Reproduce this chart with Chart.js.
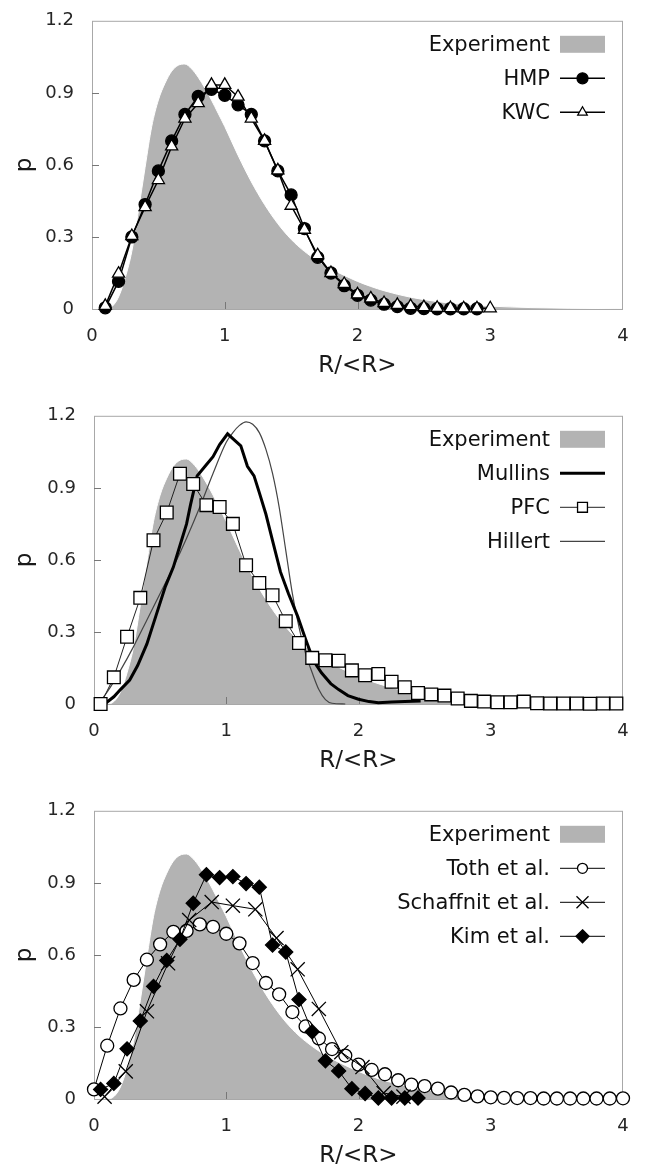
<!DOCTYPE html>
<html>
<head>
<meta charset="utf-8">
<script src="https://cdn.jsdelivr.net/npm/chart.js@4.4.1/dist/chart.umd.min.js"></script>
<style>
  body { margin: 0; background: #fff; width: 654px; height: 1173px; overflow: hidden; position: relative; }
  canvas { position: absolute; left: 0; }
</style>
</head>
<body>
<canvas id="panel1" width="654" height="383" style="top:0px"></canvas>
<canvas id="panel2" width="654" height="383" style="top:395px"></canvas>
<canvas id="panel3" width="654" height="383" style="top:790px"></canvas>
<script>
// axis ticks
const xTicks = [0, 1, 2, 3, 4];
const yTicks = [0, 0.3, 0.6, 0.9, 1.2];

// experimental size distribution (same in all three panels)
const expR = [0, 0.1, 0.15, 0.2, 0.25, 0.3, 0.35, 0.4, 0.45, 0.5, 0.55, 0.6, 0.65, 0.7, 0.75, 0.8, 0.85, 0.9, 0.95, 1.0,
              1.1, 1.2, 1.3, 1.4, 1.5, 1.6, 1.7, 1.8, 1.9, 2.0, 2.1, 2.2, 2.4, 2.6, 2.8, 3.0, 3.3, 3.6, 4.0];
const expP = [0, 0, 0.01, 0.05, 0.13, 0.24, 0.41, 0.59, 0.76, 0.87, 0.94, 0.99, 1.015, 1.02, 1.0, 0.965, 0.92, 0.87, 0.815, 0.76,
              0.64, 0.53, 0.435, 0.355, 0.29, 0.24, 0.2, 0.167, 0.14, 0.115, 0.094, 0.076, 0.049, 0.031, 0.019, 0.012, 0.006, 0.003, 0.001];

// panel 1
const hmpR = [0.1, 0.2, 0.3, 0.4, 0.5, 0.6, 0.7, 0.8, 0.9, 1.0, 1.1, 1.2, 1.3, 1.4, 1.5, 1.6, 1.7, 1.8, 1.9, 2.0,
              2.1, 2.2, 2.3, 2.4, 2.5, 2.6, 2.7, 2.8, 2.9];
const hmpP = [0.005, 0.115, 0.30, 0.435, 0.575, 0.70, 0.81, 0.885, 0.915, 0.89, 0.85, 0.81, 0.70, 0.575, 0.475, 0.335, 0.215, 0.15, 0.097, 0.057,
              0.037, 0.02, 0.01, 0.003, 0.002, 0.001, 0.001, 0.001, 0.001];
const kwcR = [0.1, 0.2, 0.3, 0.4, 0.5, 0.6, 0.7, 0.8, 0.9, 1.0, 1.1, 1.2, 1.3, 1.4, 1.5, 1.6, 1.7, 1.8, 1.9, 2.0,
              2.1, 2.2, 2.3, 2.4, 2.5, 2.6, 2.7, 2.8, 2.9, 3.0];
const kwcP = [0.013, 0.147, 0.304, 0.424, 0.537, 0.677, 0.793, 0.857, 0.933, 0.933, 0.884, 0.793, 0.70, 0.577, 0.43, 0.33, 0.224, 0.15, 0.104, 0.061,
              0.044, 0.025, 0.017, 0.012, 0.008, 0.005, 0.004, 0.003, 0.003, 0.003];

// panel 2
const mullinsR = [0.08, 0.15, 0.2, 0.27, 0.33, 0.4, 0.47, 0.54, 0.6, 0.65, 0.7, 0.73, 0.78, 0.84, 0.9, 0.95, 1.01, 1.06, 1.11, 1.16,
                  1.21, 1.25, 1.3, 1.35, 1.41, 1.47, 1.54, 1.6, 1.66, 1.72, 1.79, 1.85, 1.92, 2.0, 2.08, 2.15, 2.25, 2.35, 2.47];
const mullinsP = [0, 0.03, 0.06, 0.1, 0.16, 0.25, 0.37, 0.49, 0.57, 0.66, 0.75, 0.83, 0.95, 0.99, 1.03, 1.08, 1.125, 1.10, 1.075, 0.99,
                  0.95, 0.88, 0.79, 0.68, 0.55, 0.46, 0.365, 0.27, 0.18, 0.13, 0.085, 0.06, 0.035, 0.02, 0.01, 0.005, 0.008, 0.01, 0.012];
const pfcR = [0.05, 0.15, 0.25, 0.35, 0.45, 0.55, 0.65, 0.75, 0.85, 0.95, 1.05, 1.15, 1.25, 1.35, 1.45, 1.55, 1.65, 1.75, 1.85, 1.95,
              2.05, 2.15, 2.25, 2.35, 2.45, 2.55, 2.65, 2.75, 2.85, 2.95, 3.05, 3.15, 3.25, 3.35, 3.45, 3.55, 3.65, 3.75, 3.85, 3.95];
const pfcP = [0, 0.111, 0.28, 0.442, 0.682, 0.797, 0.959, 0.916, 0.828, 0.82, 0.75, 0.578, 0.504, 0.453, 0.345, 0.254, 0.192, 0.182, 0.18, 0.14,
              0.12, 0.125, 0.093, 0.07, 0.046, 0.04, 0.035, 0.023, 0.013, 0.01, 0.007, 0.007, 0.01, 0.003, 0.002, 0.002, 0.002, 0.001, 0.002, 0.002];
const hillertR = [0.03, 0.1, 0.2, 0.3, 0.4, 0.5, 0.6, 0.7, 0.8, 0.9, 1.0, 1.05, 1.1, 1.15, 1.2, 1.25, 1.3, 1.35, 1.4, 1.45,
                  1.5, 1.55, 1.6, 1.65, 1.7, 1.75, 1.8, 1.9];
const hillertP = [0, 0.05, 0.14, 0.24, 0.35, 0.46, 0.57, 0.69, 0.82, 0.96, 1.09, 1.13, 1.16, 1.175, 1.165, 1.13, 1.06, 0.96, 0.82, 0.64,
                  0.46, 0.32, 0.21, 0.13, 0.06, 0.018, 0.003, 0];

// panel 3
const tothR = [0, 0.1, 0.2, 0.3, 0.4, 0.5, 0.6, 0.7, 0.8, 0.9, 1.0, 1.1, 1.2, 1.3, 1.4, 1.5, 1.6, 1.7, 1.8, 1.9,
               2.0, 2.1, 2.2, 2.3, 2.4, 2.5, 2.6, 2.7, 2.8, 2.9, 3.0, 3.1, 3.2, 3.3, 3.4, 3.5, 3.6, 3.7, 3.8, 3.9, 4.0];
const tothP = [0.04, 0.222, 0.377, 0.496, 0.58, 0.644, 0.696, 0.70, 0.727, 0.717, 0.688, 0.648, 0.566, 0.483, 0.436, 0.362, 0.302, 0.252, 0.208, 0.181,
               0.143, 0.121, 0.103, 0.078, 0.06, 0.054, 0.043, 0.027, 0.017, 0.011, 0.007, 0.005, 0.004, 0.004, 0.002, 0.002, 0.002, 0.002, 0.002, 0.002, 0.003];
const schaffnitR = [0.08, 0.24, 0.40, 0.56, 0.72, 0.89, 1.05, 1.22, 1.38, 1.54, 1.70, 1.87, 2.03, 2.19, 2.34];
const schaffnitP = [0.01, 0.115, 0.365, 0.565, 0.745, 0.82, 0.805, 0.79, 0.67, 0.54, 0.375, 0.195, 0.133, 0.025, 0.01];
const kimR = [0.05, 0.15, 0.25, 0.35, 0.45, 0.55, 0.65, 0.75, 0.85, 0.95, 1.05, 1.15, 1.25, 1.35, 1.45, 1.55, 1.65, 1.75, 1.85, 1.95,
              2.05, 2.15, 2.25, 2.35, 2.45];
const kimP = [0.04, 0.065, 0.209, 0.325, 0.469, 0.577, 0.665, 0.815, 0.934, 0.922, 0.926, 0.897, 0.882, 0.641, 0.612, 0.414, 0.280, 0.159, 0.117, 0.043,
              0.023, 0.004, 0.004, 0.004, 0.004];

Chart.defaults.font.family = '"DejaVu Sans", sans-serif';

const pts = (rs, ps) => rs.map((r, i) => ({ x: r, y: ps[i] }));

// marker size used in the key (smaller than in the plot for some styles)
const keySize = { 'HMP': 5.5, 'KWC': 5.5, 'PFC': 7, 'Toth et al.': 5, 'Schaffnit et al.': 8.5, 'Kim et al.': 6.5 };

function experiment() {
    return {
        label: 'Experiment', data: pts(expR, expP), showLine: true, fill: 'origin',
        backgroundColor: '#b3b3b3', borderColor: '#ffffff', borderWidth: 1,
        pointRadius: 0, cubicInterpolationMode: 'monotone', order: 10, clip: false
    };
}

function markers(label, rs, ps, style, radius, fillColor, lineWidth, order) {
    return {
        label: label, data: pts(rs, ps), showLine: true,
        borderColor: '#000', borderWidth: lineWidth,
        pointStyle: style, pointRadius: radius,
        pointBackgroundColor: fillColor, pointBorderColor: '#000', pointBorderWidth: 1.3,
        order: order, clip: false
    };
}

function drawMarker(ctx, ds, x, y, r) {
    ctx.save();
    ctx.beginPath();
    ctx.lineWidth = ds.pointBorderWidth;
    ctx.strokeStyle = ds.pointBorderColor;
    ctx.fillStyle = ds.pointBackgroundColor;
    switch (ds.pointStyle) {
        case 'circle':
            ctx.arc(x, y, r, 0, Math.PI * 2);
            break;
        case 'triangle':
            ctx.moveTo(x, y - r);
            ctx.lineTo(x + r * 0.866, y + r / 2);
            ctx.lineTo(x - r * 0.866, y + r / 2);
            ctx.closePath();
            break;
        case 'rect':
            ctx.rect(x - r * 0.707, y - r * 0.707, r * 1.414, r * 1.414);
            break;
        case 'rectRot':
            ctx.moveTo(x, y - r);
            ctx.lineTo(x + r, y);
            ctx.lineTo(x, y + r);
            ctx.lineTo(x - r, y);
            ctx.closePath();
            break;
        case 'crossRot':
            ctx.moveTo(x - r * 0.707, y - r * 0.707);
            ctx.lineTo(x + r * 0.707, y + r * 0.707);
            ctx.moveTo(x - r * 0.707, y + r * 0.707);
            ctx.lineTo(x + r * 0.707, y - r * 0.707);
            break;
    }
    if (ds.pointStyle !== 'crossRot') ctx.fill();
    ctx.stroke();
    ctx.restore();
}

// gnuplot-like box with inward tick marks, drawn right after the grey area
const framePlugin = {
    id: 'frame',
    afterDatasetDraw(chart, args) {
        if (args.index !== 0) return;
        const { ctx, chartArea: a, scales: { x, y } } = chart;
        ctx.save();
        ctx.lineWidth = 1;
        ctx.strokeStyle = '#a8a8a8';
        ctx.strokeRect(a.left + 0.5, a.top + 0.5, a.right - a.left - 1, a.bottom - a.top);
        ctx.strokeStyle = '#777';
        ctx.beginPath();
        xTicks.slice(1, -1).forEach(v => {
            const px = Math.round(x.getPixelForValue(v)) + 0.5;
            ctx.moveTo(px, a.bottom);
            ctx.lineTo(px, a.bottom - 7);
        });
        yTicks.slice(1, -1).forEach(v => {
            const py = Math.round(y.getPixelForValue(v)) + 0.5;
            ctx.moveTo(a.left, py);
            ctx.lineTo(a.left + 7, py);
        });
        ctx.stroke();
        ctx.restore();
    }
};

// key in the top right corner: text first, then the sample
const keyPlugin = {
    id: 'key',
    afterDraw(chart) {
        const { ctx, chartArea: a } = chart;
        ctx.save();
        ctx.font = '21px "DejaVu Sans"';
        ctx.textAlign = 'right';
        ctx.textBaseline = 'middle';
        chart.data.datasets.forEach((ds, i) => {
            const y = a.top + 23.5 + i * 34;
            const x0 = a.right - 63, x1 = a.right - 18;
            ctx.fillStyle = '#111';
            ctx.fillText(ds.label, a.right - 73, y + 1);
            if (ds.fill) {
                ctx.fillStyle = ds.backgroundColor;
                ctx.fillRect(x0, y - 8.5, x1 - x0, 17);
                return;
            }
            ctx.strokeStyle = ds.borderColor;
            ctx.lineWidth = ds.borderWidth;
            ctx.beginPath();
            ctx.moveTo(x0, y);
            ctx.lineTo(x1, y);
            ctx.stroke();
            if (keySize[ds.label]) drawMarker(ctx, ds, (x0 + x1) / 2, y, keySize[ds.label]);
        });
        ctx.restore();
    }
};

function buildPanel(id, yAxisWidth, datasets) {
    return new Chart(document.getElementById(id), {
        type: 'scatter',
        data: { datasets: datasets },
        options: {
            responsive: false,
            animation: false,
            devicePixelRatio: 1,
            events: [],
            layout: { padding: { top: 12, right: 31, left: 0, bottom: 0 } },
            plugins: { legend: { display: false }, tooltip: { enabled: false } },
            scales: {
                x: {
                    type: 'linear', min: 0, max: 4,
                    grid: { display: false },
                    border: { display: false },
                    afterBuildTicks: s => { s.ticks = xTicks.map(v => ({ value: v })); },
                    afterFit: s => { s.height = 74; },
                    ticks: { padding: 9, color: '#262626', maxRotation: 0, font: { size: 18 }, callback: v => String(v) },
                    title: { display: true, text: 'R/<R>', color: '#1a1a1a', font: { size: 23 }, padding: { top: 0, bottom: 3 } }
                },
                y: {
                    type: 'linear', min: 0, max: 1.2,
                    grid: { display: false },
                    border: { display: false },
                    afterBuildTicks: s => { s.ticks = yTicks.map(v => ({ value: v })); },
                    afterFit: s => { s.width = yAxisWidth; },
                    ticks: { padding: 10, color: '#262626', font: { size: 18 }, callback: v => String(v) },
                    title: { display: true, text: 'p', color: '#1a1a1a', font: { size: 23 }, padding: { top: 11, bottom: 0 } }
                }
            }
        },
        plugins: [framePlugin, keyPlugin]
    });
}

buildPanel('panel1', 92, [
    experiment(),
    markers('HMP', hmpR, hmpP, 'circle', 6, '#000', 1.5, 2),
    markers('KWC', kwcR, kwcP, 'triangle', 7, '#fff', 1.5, 1)
]);

const mullins = {
    label: 'Mullins', data: pts(mullinsR, mullinsP), showLine: true,
    borderColor: '#000', borderWidth: 3, pointRadius: 0, order: 2, clip: false
};
const hillert = {
    label: 'Hillert', data: pts(hillertR, hillertP), showLine: true,
    borderColor: '#444', borderWidth: 1.2, pointRadius: 0,
    cubicInterpolationMode: 'monotone', order: 3, clip: false
};
const pfc = markers('PFC', pfcR, pfcP, 'rect', 9, '#fff', 1, 1);
pfc.borderColor = '#222';

buildPanel('panel2', 94, [experiment(), mullins, pfc, hillert]);

buildPanel('panel3', 94, [
    experiment(),
    markers('Toth et al.', tothR, tothP, 'circle', 6.5, '#fff', 1, 3),
    markers('Schaffnit et al.', schaffnitR, schaffnitP, 'crossRot', 10, '#000', 1, 2),
    markers('Kim et al.', kimR, kimP, 'rectRot', 7, '#000', 1, 1)
]);
</script>
</body>
</html>
